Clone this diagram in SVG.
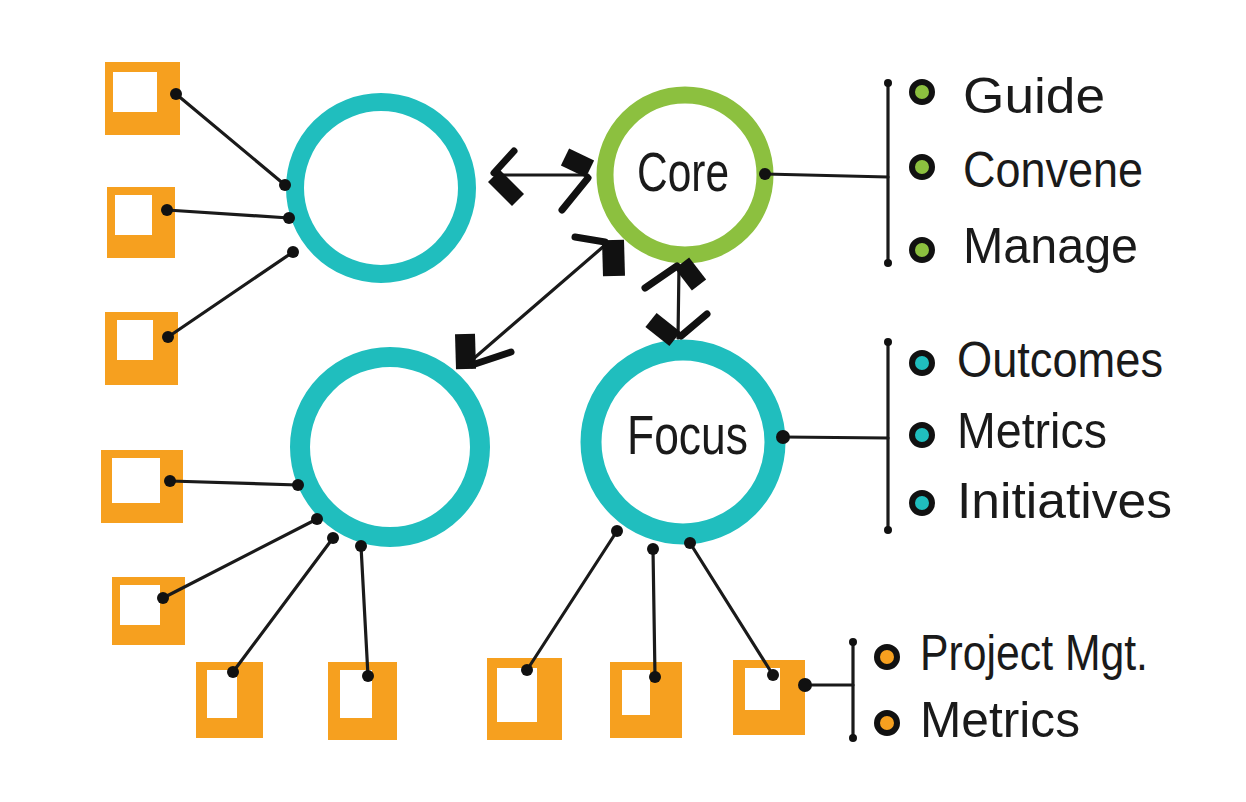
<svg xmlns="http://www.w3.org/2000/svg" width="1246" height="802" viewBox="0 0 1246 802">
<style>
.sq{fill:#F6A01F}
.hole{fill:#fff}
.teal{fill:none;stroke:#20BEBE}
.green{fill:none;stroke:#8CC03F}
.wire{stroke:#1a1a1a;stroke-width:3.2;fill:none;stroke-linecap:round}
.dot{fill:#111}
.hk{stroke:#111;stroke-linecap:butt}
.hn{stroke:#111;stroke-linecap:round;stroke-width:7}
.lbl{font-family:"Liberation Sans","Noto Sans",sans-serif;fill:#1a1a1a;font-size:50px}
.big{font-size:56px}
.bt{stroke:#111;stroke-width:6}
.bg{fill:#8CC03F}.bb{fill:#20BEBE}.bo{fill:#F6A01F}
</style>
<rect width="1246" height="802" fill="#fff"/>

<g id="circle-top-left"><circle class="teal" cx="381" cy="188" r="86" stroke-width="18"/></g>
<g id="circle-core"><circle class="green" cx="685" cy="175" r="80" stroke-width="17"/>
  <text class="lbl big" x="683" y="191" text-anchor="middle" textLength="92" lengthAdjust="spacingAndGlyphs">Core</text></g>
<g id="circle-bottom-left"><circle class="teal" cx="390" cy="447" r="90" stroke-width="20"/></g>
<g id="circle-focus"><circle class="teal" cx="683" cy="442" r="92" stroke-width="21"/>
  <text class="lbl big" x="627" y="454" textLength="121" lengthAdjust="spacingAndGlyphs">Focus</text></g>

<g id="sq1"><rect class="sq" x="105" y="62" width="75" height="73"/><rect class="hole" x="113" y="72" width="44" height="40"/></g>
<g id="sq2"><rect class="sq" x="107" y="187" width="68" height="71"/><rect class="hole" x="115" y="195" width="37" height="40"/></g>
<g id="sq3"><rect class="sq" x="105" y="312" width="73" height="73"/><rect class="hole" x="117" y="320" width="36" height="40"/></g>
<g id="sq4"><rect class="sq" x="101" y="450" width="82" height="73"/><rect class="hole" x="112" y="458" width="48" height="45"/></g>
<g id="sq5"><rect class="sq" x="112" y="577" width="73" height="68"/><rect class="hole" x="120" y="585" width="40" height="40"/></g>
<g id="sq6"><rect class="sq" x="196" y="662" width="67" height="76"/><rect class="hole" x="207" y="670" width="30" height="48"/></g>
<g id="sq7"><rect class="sq" x="328" y="662" width="69" height="78"/><rect class="hole" x="340" y="670" width="32" height="48"/></g>
<g id="sq8"><rect class="sq" x="487" y="658" width="75" height="82"/><rect class="hole" x="497" y="668" width="40" height="54"/></g>
<g id="sq9"><rect class="sq" x="610" y="662" width="72" height="76"/><rect class="hole" x="622" y="670" width="28" height="45"/></g>
<g id="sq10"><rect class="sq" x="733" y="660" width="72" height="75"/><rect class="hole" x="745" y="668" width="35" height="42"/></g>

<g id="list-core">
  <circle class="bg bt" cx="922" cy="92" r="10"/>
  <circle class="bg bt" cx="922" cy="167" r="10"/>
  <circle class="bg bt" cx="922" cy="250" r="10"/>
  <text class="lbl" x="963" y="113" textLength="142" lengthAdjust="spacingAndGlyphs">Guide</text>
  <text class="lbl" x="963" y="187" textLength="180" lengthAdjust="spacingAndGlyphs">Convene</text>
  <text class="lbl" x="963" y="263" textLength="175" lengthAdjust="spacingAndGlyphs">Manage</text>
</g>
<g id="list-focus">
  <circle class="bb bt" cx="922" cy="363" r="10"/>
  <circle class="bb bt" cx="922" cy="435" r="10"/>
  <circle class="bb bt" cx="922" cy="503" r="10"/>
  <text class="lbl" x="957" y="377" textLength="206" lengthAdjust="spacingAndGlyphs">Outcomes</text>
  <text class="lbl" x="957" y="448" textLength="150" lengthAdjust="spacingAndGlyphs">Metrics</text>
  <text class="lbl" x="957" y="518" textLength="215" lengthAdjust="spacingAndGlyphs">Initiatives</text>
</g>
<g id="list-square">
  <circle class="bo bt" cx="887" cy="657" r="10"/>
  <circle class="bo bt" cx="887" cy="723" r="10"/>
  <text class="lbl" x="920" y="670" textLength="228" lengthAdjust="spacingAndGlyphs">Project Mgt.</text>
  <text class="lbl" x="920" y="737" textLength="160" lengthAdjust="spacingAndGlyphs">Metrics</text>
</g>

<g id="connectors">
  <!-- top-left circle spokes -->
  <line class="wire" x1="176" y1="94" x2="285" y2="185"/>
  <line class="wire" x1="167" y1="210" x2="289" y2="218"/>
  <line class="wire" x1="168" y1="337" x2="293" y2="252"/>
  <!-- bottom-left circle spokes -->
  <line class="wire" x1="170" y1="481" x2="298" y2="485"/>
  <line class="wire" x1="163" y1="598" x2="317" y2="519"/>
  <line class="wire" x1="233" y1="672" x2="333" y2="538"/>
  <line class="wire" x1="368" y1="676" x2="361" y2="546"/>
  <!-- focus spokes -->
  <line class="wire" x1="527" y1="670" x2="617" y2="531"/>
  <line class="wire" x1="655" y1="677" x2="653" y2="549"/>
  <line class="wire" x1="773" y1="675" x2="690" y2="543"/>
  <!-- brackets -->
  <line class="wire" x1="765" y1="174" x2="888" y2="177"/>
  <line class="wire" x1="888" y1="83" x2="888" y2="263"/>
  <line class="wire" x1="783" y1="437" x2="888" y2="438"/>
  <line class="wire" x1="888" y1="342" x2="888" y2="530"/>
  <line class="wire" x1="805" y1="685" x2="853" y2="685"/>
  <line class="wire" x1="853" y1="642" x2="853" y2="738"/>
  <!-- dots -->
  <g class="dot">
    <circle cx="176" cy="94" r="6"/><circle cx="285" cy="185" r="6"/>
    <circle cx="167" cy="210" r="6"/><circle cx="289" cy="218" r="6"/>
    <circle cx="168" cy="337" r="6"/><circle cx="293" cy="252" r="6"/>
    <circle cx="170" cy="481" r="6"/><circle cx="298" cy="485" r="6"/>
    <circle cx="163" cy="598" r="6"/><circle cx="317" cy="519" r="6"/>
    <circle cx="233" cy="672" r="6"/><circle cx="333" cy="538" r="6"/>
    <circle cx="368" cy="676" r="6"/><circle cx="361" cy="546" r="6"/>
    <circle cx="527" cy="670" r="6"/><circle cx="617" cy="531" r="6"/>
    <circle cx="655" cy="677" r="6"/><circle cx="653" cy="549" r="6"/>
    <circle cx="773" cy="675" r="6"/><circle cx="690" cy="543" r="6"/>
    <circle cx="765" cy="174" r="6"/><circle cx="783" cy="437" r="7"/>
    <circle cx="805" cy="685" r="7"/>
    <circle cx="888" cy="83" r="4"/><circle cx="888" cy="263" r="4"/>
    <circle cx="888" cy="342" r="4"/><circle cx="888" cy="530" r="4"/>
    <circle cx="853" cy="642" r="4"/><circle cx="853" cy="738" r="4"/>
  </g>
  <!-- double arrows -->
  <line class="wire" x1="500" y1="175" x2="588" y2="175"/>
  <line class="hk" stroke-width="17" x1="494" y1="176" x2="518" y2="200"/>
  <line class="hn" x1="494" y1="173" x2="514" y2="151"/>
  <line class="hk" stroke-width="19" x1="565" y1="157" x2="590" y2="169"/>
  <line class="hn" x1="588" y1="178" x2="562" y2="210"/>

  <line class="wire" x1="604" y1="246" x2="472" y2="360"/>
  <line class="hk" stroke-width="22" x1="613" y1="240" x2="614" y2="276"/>
  <line class="hn" x1="605" y1="242" x2="575" y2="237"/>
  <line class="hk" stroke-width="20" x1="466" y1="369" x2="465" y2="334"/>
  <line class="hn" x1="472" y1="365" x2="511" y2="352"/>

  <line class="wire" x1="679" y1="265" x2="678" y2="338"/>
  <line class="hk" stroke-width="18" x1="682" y1="263" x2="699" y2="285"/>
  <line class="hn" x1="677" y1="266" x2="645" y2="288"/>
  <line class="hk" stroke-width="18" x1="675" y1="339" x2="651" y2="320"/>
  <line class="hn" x1="681" y1="336" x2="707" y2="314"/>
</g>
</svg>
